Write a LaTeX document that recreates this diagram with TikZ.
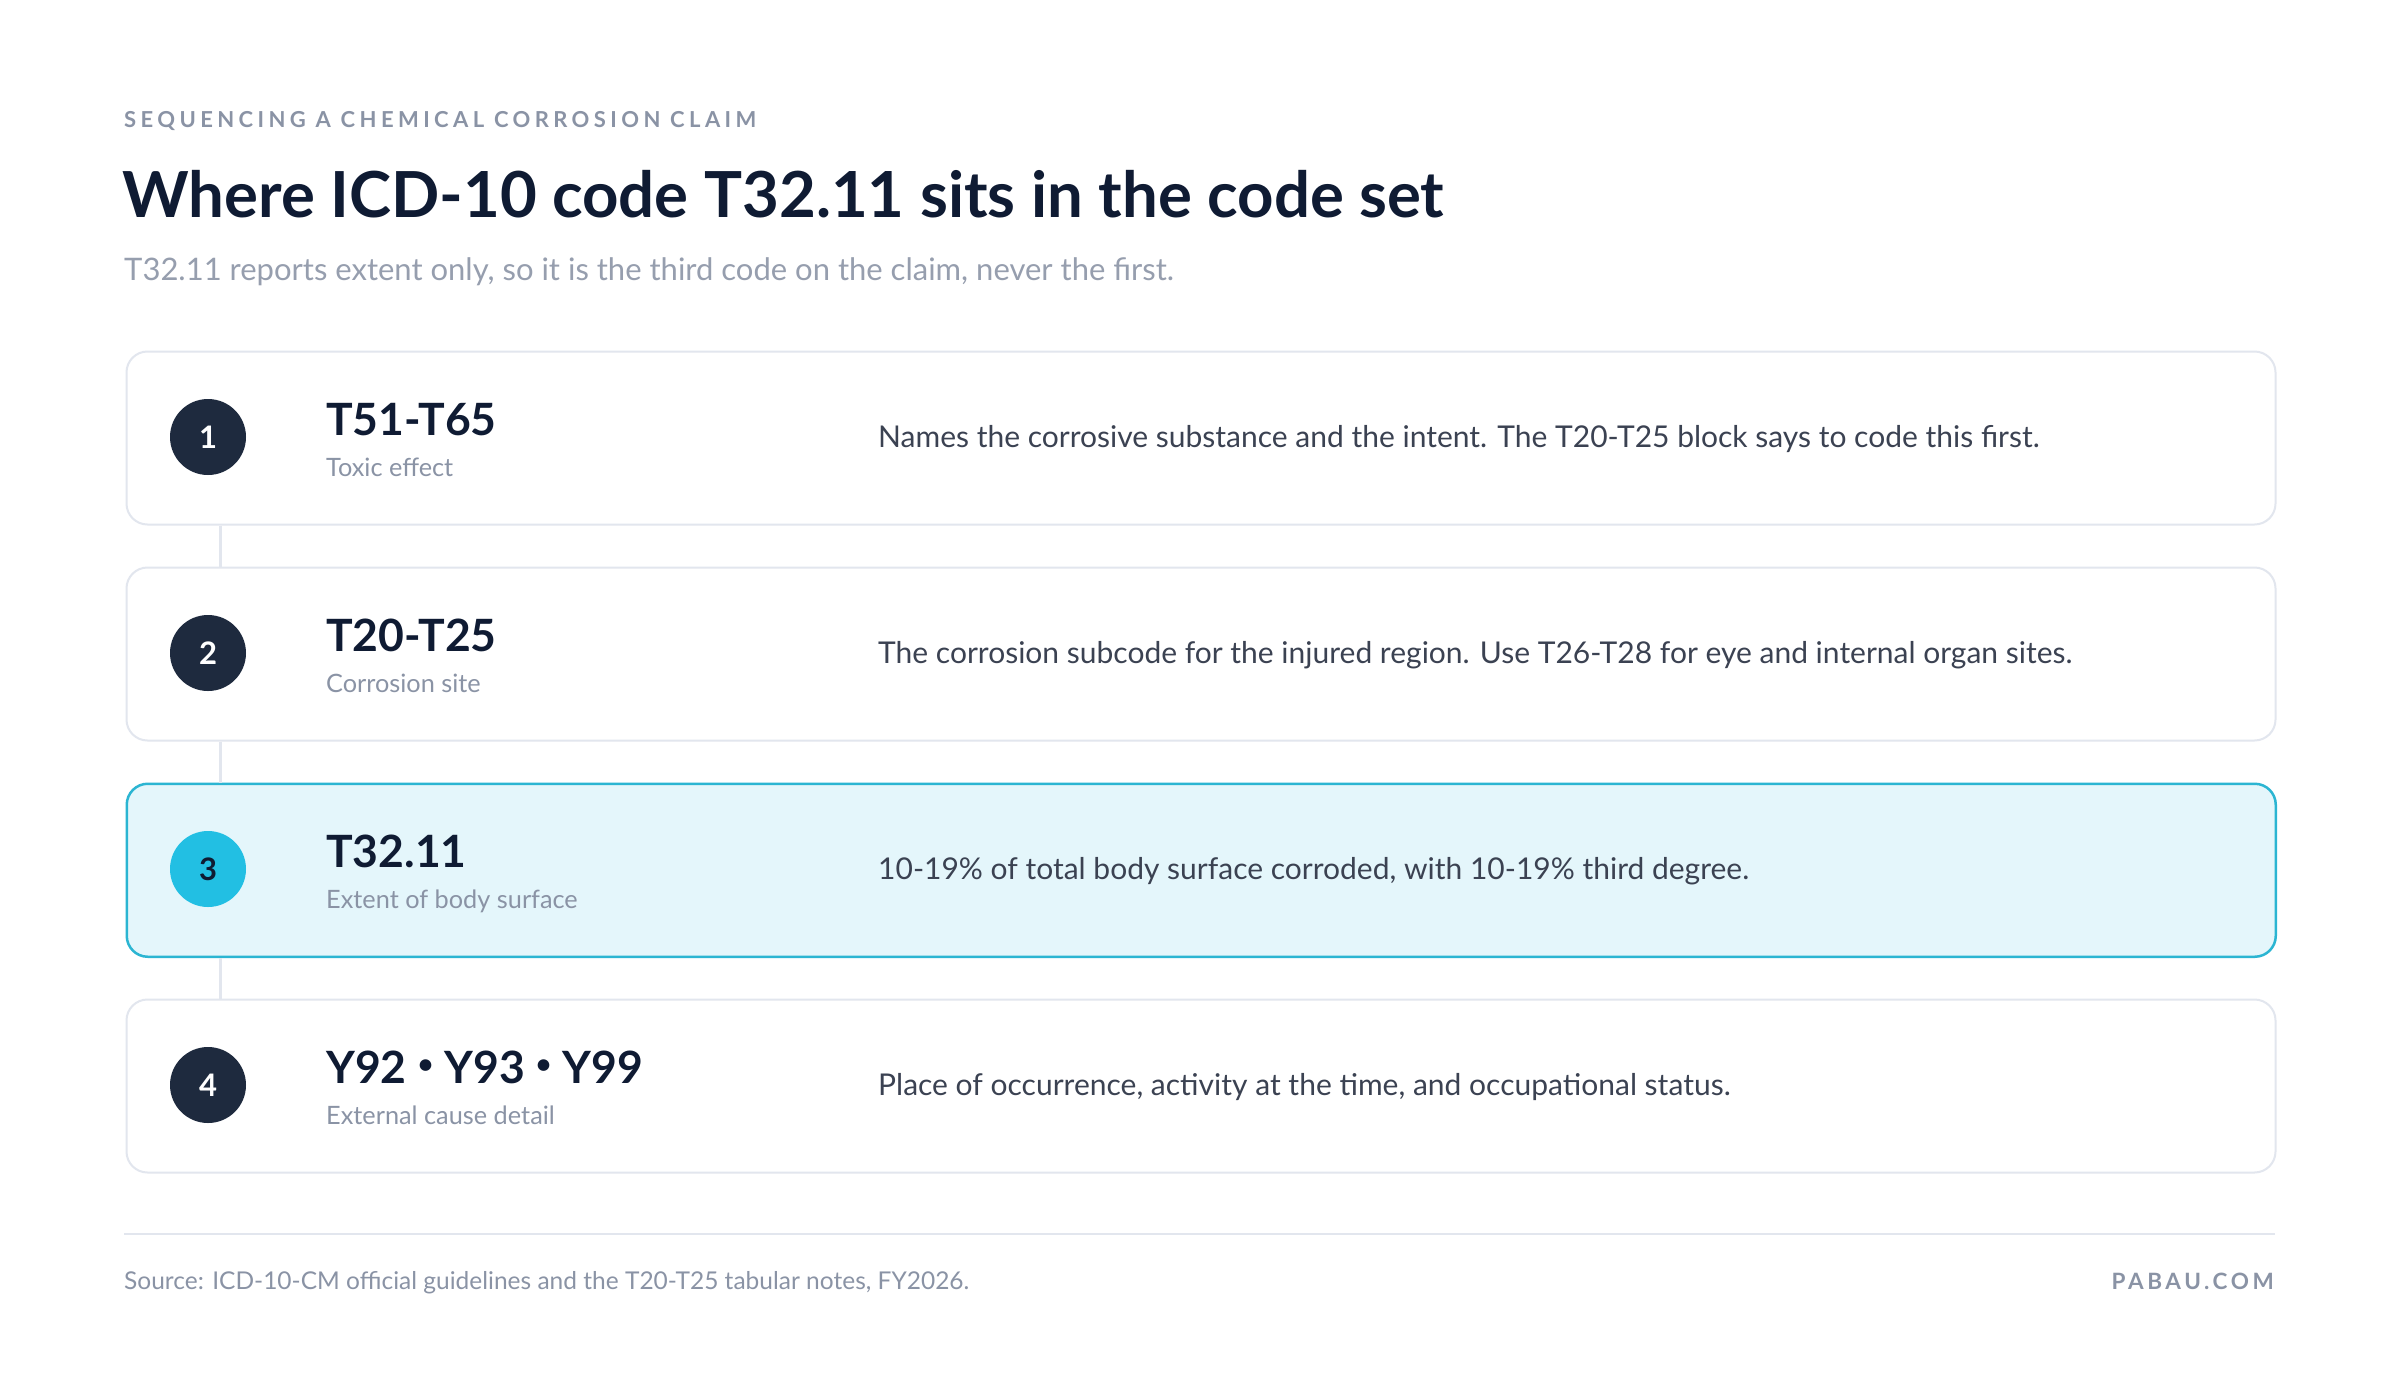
\documentclass[tikz,border=0pt]{standalone}
\usepackage{fontspec}
\setmainfont{Lato}
\newfontfamily\spacedfont[LetterSpace=20]{Lato}
\newfontfamily\brandfont[LetterSpace=16]{Lato}
\definecolor{navy}{HTML}{0F1B33}
\definecolor{circdark}{HTML}{1E2A3E}
\definecolor{graytext}{HTML}{8A93A5}
\definecolor{desctext}{HTML}{3B4252}
\definecolor{cardline}{HTML}{E2E6EE}
\definecolor{hifill}{HTML}{E4F6FB}
\definecolor{hiline}{HTML}{2BB5D2}
\definecolor{hicirc}{HTML}{22BFE3}
\tikzset{
  cardbox/.style={draw=cardline, line width=2pt, fill=white, rounded corners=21pt,
    minimum width=2149pt, minimum height=173pt, anchor=north west, inner sep=0pt},
  hicard/.style={draw=hiline, line width=2.5pt, fill=hifill},
  numcirc/.style={circle, fill=circdark, minimum size=76pt, inner sep=0pt,
    text=white, font=\fontsize{31}{31}\selectfont\bfseries},
  hicircle/.style={fill=hicirc, text=navy},
  codetext/.style={anchor=base west, inner sep=0pt, text=navy, font=\fontsize{44.5}{48}\selectfont\bfseries},
  subtext/.style={anchor=base west, inner sep=0pt, text=graytext, font=\fontsize{25.3}{28}\selectfont},
  desc/.style={anchor=base west, inner sep=0pt, text=desctext, font=\fontsize{30}{34}\selectfont},
  conn/.style={draw=cardline, line width=3pt},
}
\newcommand\codedot{\hspace{0.25em}\raisebox{0.22em}{\scalebox{0.6}{\textbullet}}\hspace{0.25em}}
\begin{document}
\begin{tikzpicture}[x=1pt,y=-1pt]
\useasboundingbox[fill=white] (0,0) rectangle (2400,1390);
% header
\node[anchor=base west, inner sep=0pt, text=graytext, font=\spacedfont\fontsize{22}{24}\selectfont\bfseries] (kicker) at (124,127) {SEQUENCING A CHEMICAL CORROSION CLAIM};
\node[anchor=base west, inner sep=0pt, text=navy, font=\fontsize{63.5}{70}\selectfont\bfseries] (title) at (122,217) {Where ICD-10 code T32.11 sits in the code set};
\node[anchor=base west, inner sep=0pt, text=graytext!90, font=\fontsize{31}{34}\selectfont] (subtitle) at (124,280) {T32.11 reports extent only, so it is the third code on the claim, never the first.};
% cards
\newcommand\cardrow[6]{%
  \node[cardbox,#6] (card#1) at (125.5,#2) {};
  \node[numcirc,#5] (num#1) at (208,#2+86.5) {#1};
  \node[codetext] (code#1) at (326,#2+84.5) {#3};
  \node[subtext] (sub#1) at (326,#2+125.5) {#4};
}
\cardrow{1}{350.5}{T51-T65}{Toxic effect}{}{}
\node[desc] (desc1) at (878,447.5) {Names the corrosive substance and the intent. The T20-T25 block says to code this first.};
\cardrow{2}{566.5}{T20-T25}{Corrosion site}{}{}
\node[desc] (desc2) at (878,663.5) {The corrosion subcode for the injured region. Use T26-T28 for eye and internal organ sites.};
\cardrow{3}{782.5}{T32.11}{Extent of body surface}{hicircle}{hicard}
\node[desc] (desc3) at (878,879.5) {10-19\% of total body surface corroded, with 10-19\% third degree.};
\cardrow{4}{998.5}{Y92\codedot Y93\codedot Y99}{External cause detail}{}{}
\node[desc] (desc4) at (878,1095.5) {Place of occurrence, activity at the time, and occupational status.};
% connectors
\coordinate (cx) at (220,0);
\draw[conn] (card1.south -| cx) -- (card2.north -| cx);
\draw[conn] (card2.south -| cx) -- (card3.north -| cx);
\draw[conn] (card3.south -| cx) -- (card4.north -| cx);
% footer
\coordinate (divL) at (124,1234);
\coordinate (divR) at (2275,1234);
\draw[draw=cardline, line width=2.5pt] (divL) -- (divR);
\node[anchor=base west, inner sep=0pt, text=graytext, font=\fontsize{24.5}{28}\selectfont] (source) at (124,1289) {Source: ICD-10-CM official guidelines and the T20-T25 tabular notes, FY2026.};
\node[anchor=base east, inner sep=0pt, text=graytext, font=\brandfont\fontsize{22.5}{26}\selectfont\bfseries] (brand) at (2274,1289) {PABAU.COM};
\end{tikzpicture}
\end{document}
